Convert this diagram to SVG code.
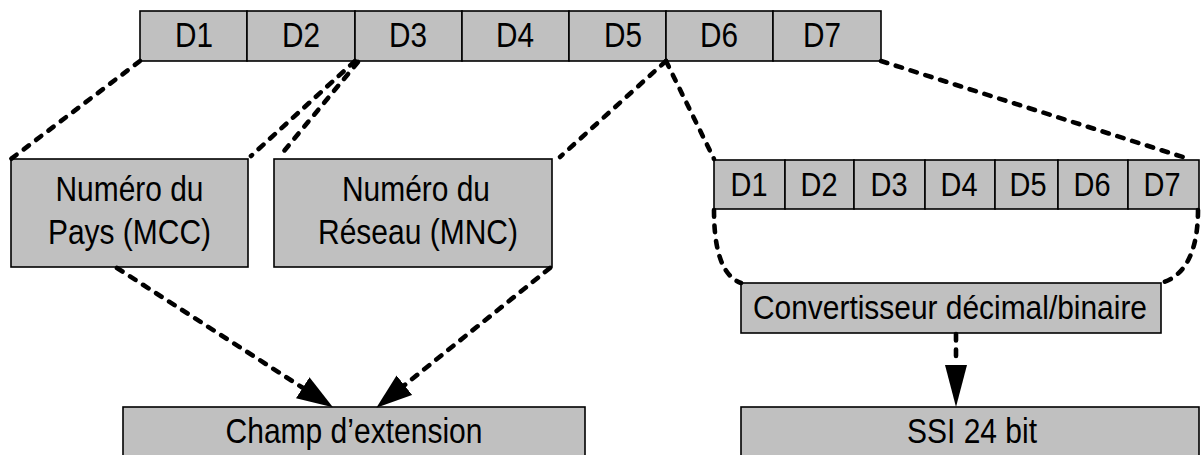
<svg xmlns="http://www.w3.org/2000/svg" width="1201" height="455" viewBox="0 0 1201 455">
<style>
.box{fill:#c0c0c0;stroke:#000;stroke-width:1.6}
.t{font-family:"Liberation Sans",Arial,sans-serif;font-size:35px;fill:#000;text-anchor:middle}
.s{font-size:33px}
.d{fill:none;stroke:#000;stroke-width:4.6;stroke-dasharray:6.5 9;stroke-linecap:round}
</style>
<defs>
<marker id="ah" viewBox="0 0 36 25" refX="0" refY="12.5" markerWidth="36" markerHeight="25" markerUnits="userSpaceOnUse" orient="auto">
<path d="M0,0 L36,12.5 L0,25 z" fill="#000"/>
</marker>
<marker id="ahv" viewBox="0 0 42 22" refX="0" refY="11" markerWidth="42" markerHeight="22" markerUnits="userSpaceOnUse" orient="auto">
<path d="M0,0 L42,11 L0,22 z" fill="#000"/>
</marker>
</defs>
<g id="topbar">
<rect class="box" x="140" y="11" width="107" height="50"/>
<rect class="box" x="247" y="11" width="108" height="50"/>
<rect class="box" x="355" y="11" width="107" height="50"/>
<rect class="box" x="462" y="11" width="107" height="50"/>
<rect class="box" x="569" y="11" width="97" height="50"/>
<rect class="box" x="666" y="11" width="107" height="50"/>
<rect class="box" x="773" y="11" width="108" height="50"/>
<text class="t" x="194" y="47" textLength="38" lengthAdjust="spacingAndGlyphs">D1</text>
<text class="t" x="301" y="47" textLength="38" lengthAdjust="spacingAndGlyphs">D2</text>
<text class="t" x="408" y="47" textLength="38" lengthAdjust="spacingAndGlyphs">D3</text>
<text class="t" x="515" y="47" textLength="38" lengthAdjust="spacingAndGlyphs">D4</text>
<text class="t" x="623" y="47" textLength="38" lengthAdjust="spacingAndGlyphs">D5</text>
<text class="t" x="719" y="47" textLength="38" lengthAdjust="spacingAndGlyphs">D6</text>
<text class="t" x="822" y="47" textLength="38" lengthAdjust="spacingAndGlyphs">D7</text>
</g>
<g id="mcc">
<rect class="box" x="11" y="159" width="237" height="108"/>
<text class="t" x="129.5" y="201" textLength="148" lengthAdjust="spacingAndGlyphs">Numéro du</text>
<text class="t" x="129.5" y="244" textLength="163" lengthAdjust="spacingAndGlyphs">Pays (MCC)</text>
</g>
<g id="mnc">
<rect class="box" x="274" y="159" width="278" height="108"/>
<text class="t" x="416" y="201" textLength="148" lengthAdjust="spacingAndGlyphs">Numéro du</text>
<text class="t" x="418" y="244" textLength="200" lengthAdjust="spacingAndGlyphs">Réseau (MNC)</text>
</g>
<g id="smallbar">
<rect class="box" x="714" y="160" width="71" height="49"/>
<rect class="box" x="785" y="160" width="69" height="49"/>
<rect class="box" x="854" y="160" width="71" height="49"/>
<rect class="box" x="925" y="160" width="70" height="49"/>
<rect class="box" x="995" y="160" width="63" height="49"/>
<rect class="box" x="1058" y="160" width="70" height="49"/>
<rect class="box" x="1128" y="160" width="71" height="49"/>
<text class="t s" x="749" y="196" textLength="37" lengthAdjust="spacingAndGlyphs">D1</text>
<text class="t s" x="819" y="196" textLength="37" lengthAdjust="spacingAndGlyphs">D2</text>
<text class="t s" x="889" y="196" textLength="37" lengthAdjust="spacingAndGlyphs">D3</text>
<text class="t s" x="959" y="196" textLength="37" lengthAdjust="spacingAndGlyphs">D4</text>
<text class="t s" x="1028" y="196" textLength="37" lengthAdjust="spacingAndGlyphs">D5</text>
<text class="t s" x="1092" y="196" textLength="37" lengthAdjust="spacingAndGlyphs">D6</text>
<text class="t s" x="1162" y="196" textLength="37" lengthAdjust="spacingAndGlyphs">D7</text>
</g>
<g id="conv">
<rect class="box" x="741" y="283" width="420" height="50"/>
<text class="t s" x="950" y="319" textLength="394" lengthAdjust="spacingAndGlyphs">Convertisseur décimal/binaire</text>
</g>
<g id="champ">
<rect class="box" x="123" y="407" width="462" height="60"/>
<text class="t" x="354" y="443" textLength="257" lengthAdjust="spacingAndGlyphs">Champ d’extension</text>
</g>
<g id="ssi">
<rect class="box" x="741" y="407" width="458" height="60"/>
<text class="t" x="972" y="443" textLength="130" lengthAdjust="spacingAndGlyphs">SSI 24 bit</text>
</g>
<g id="connectors">
<path class="d" d="M140,61 L11,159"/>
<path class="d" d="M355,61 L251,156"/>
<path class="d" d="M358,62 L279,157"/>
<path class="d" d="M666,61 L560,157"/>
<path class="d" d="M666,61 L714,159"/>
<path class="d" d="M881,61 L1186,158"/>
<path class="d" d="M714,210 C714,250 722,276 741,283"/>
<path class="d" d="M1198,210 C1198,250 1186,276 1161,283"/>
<path class="d" d="M117,268 L302.7,387.8" marker-end="url(#ah)"/>
<path class="d" d="M550,268 L404.4,385.2" marker-end="url(#ah)"/>
<path class="d" d="M956,334 L956,365" marker-end="url(#ahv)"/>
</g>
</svg>
